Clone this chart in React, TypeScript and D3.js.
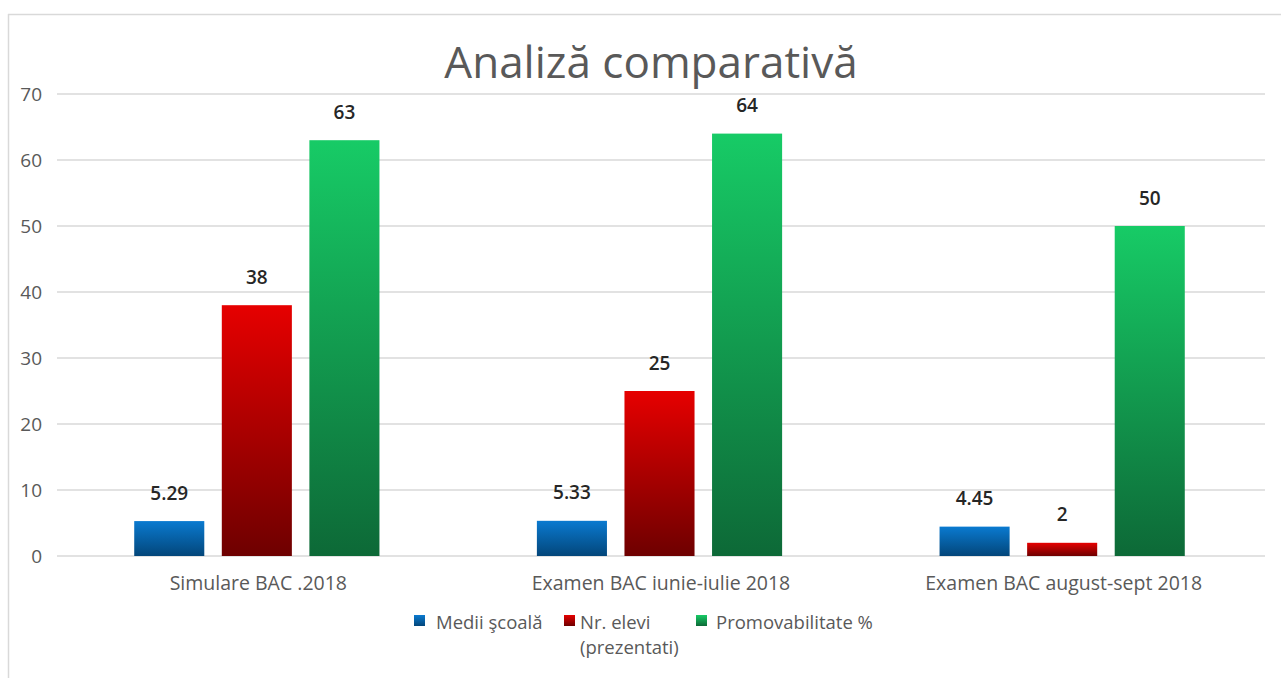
import React from "react";
import * as d3 from "d3";

const categories = ["Simulare BAC .2018", "Examen BAC iunie-iulie 2018", "Examen BAC august-sept 2018"];
const seriesNames = ["Medii şcoală", "Nr. elevi (prezentati)", "Promovabilitate %"];
const mediiScoala = [5.29, 5.33, 4.45];
const nrElevi = [38, 25, 2];
const promovabilitate = [63, 64, 50];
const valueLabels = [["5.29", "5.33", "4.45"], ["38", "25", "2"], ["63", "64", "50"]];
const yTicks = [0, 10, 20, 30, 40, 50, 60, 70];

const W = 1281;
const H = 678;
const FONT = "'Open Sans', 'DejaVu Sans', sans-serif";

const gradients = [
  { id: "gBlue", top: "#0a7ad0", bottom: "#03467a" },
  { id: "gRed", top: "#e60000", bottom: "#6e0000" },
  { id: "gGreen", top: "#17cb66", bottom: "#0d6937" },
];

export default function App() {
  const series = [mediiScoala, nrElevi, promovabilitate];
  const left = 57, right = 1265, top = 94, bottom = 556;
  const x = d3.scaleBand<string>().domain(categories).range([left, right]).paddingInner(0).paddingOuter(0);
  const y = d3.scaleLinear().domain([0, 70]).range([bottom, top]);
  const band = x.bandwidth();
  const bw = band * 0.174;
  const gap = bw * 0.25;
  const groupW = 3 * bw + 2 * gap;
  const off = (band - groupW) / 2 - 1.5;

  const legendItems = [
    { x: 414, tx: 436, label: ["Medii şcoală"] },
    { x: 564, tx: 580, label: ["Nr. elevi", "(prezentati)"] },
    { x: 696, tx: 716, label: ["Promovabilitate %"] },
  ];

  return (
    <svg width={W} height={H} style={{ position: "absolute", left: 0, top: 0, background: "#fff" }}>
      <defs>
        {gradients.map((g) => (
          <linearGradient key={g.id} id={g.id} x1="0" y1="0" x2="0" y2="1">
            <stop offset="0%" stopColor={g.top} />
            <stop offset="100%" stopColor={g.bottom} />
          </linearGradient>
        ))}
      </defs>
      <rect x={0} y={0} width={W} height={H} fill="#fff" />
      <line x1={8.5} y1={14} x2={8.5} y2={H} stroke="#d9d9d9" strokeWidth={1.5} />
      <line x1={8} y1={14.5} x2={W} y2={14.5} stroke="#d9d9d9" strokeWidth={1.5} />
      <text x={651} y={78} textAnchor="middle" fontFamily={FONT} fontSize={44} fill="#595959">
        Analiză comparativă
      </text>
      {yTicks.map((t) => (
        <g key={t}>
          <line x1={left} x2={right} y1={y(t)} y2={y(t)} stroke="#d9d9d9" strokeWidth={1.3} />
          <text x={42} y={y(t) + 7} textAnchor="end" fontFamily={FONT} fontSize={19} fill="#595959">
            {t}
          </text>
        </g>
      ))}
      {categories.map((c, ci) => (
        <g key={c}>
          {series.map((s, si) => {
            const bx = (x(c) as number) + off + si * (bw + gap);
            const by = y(s[ci]);
            return (
              <g key={si}>
                <rect x={bx} y={by} width={bw} height={bottom - by} fill={`url(#${gradients[si].id})`} />
                <text x={bx + bw / 2} y={by - 21.5} textAnchor="middle" fontFamily={FONT} fontSize={19} fontWeight={600} fill="#262626">
                  {valueLabels[si][ci]}
                </text>
              </g>
            );
          })}
          <text x={(x(c) as number) + band / 2} y={590} textAnchor="middle" fontFamily={FONT} fontSize={19.5} fill="#595959">
            {c}
          </text>
        </g>
      ))}
      {legendItems.map((it, i) => (
        <g key={i}>
          <rect x={it.x} y={615} width={11} height={11} fill={`url(#${gradients[i].id})`} />
          <text x={it.tx} y={628.5} fontFamily={FONT} fontSize={18.5} fill="#595959">
            {it.label.map((l, li) => (
              <tspan key={li} x={it.tx} dy={li === 0 ? 0 : 25.5}>
                {l}
              </tspan>
            ))}
          </text>
        </g>
      ))}
    </svg>
  );
}
